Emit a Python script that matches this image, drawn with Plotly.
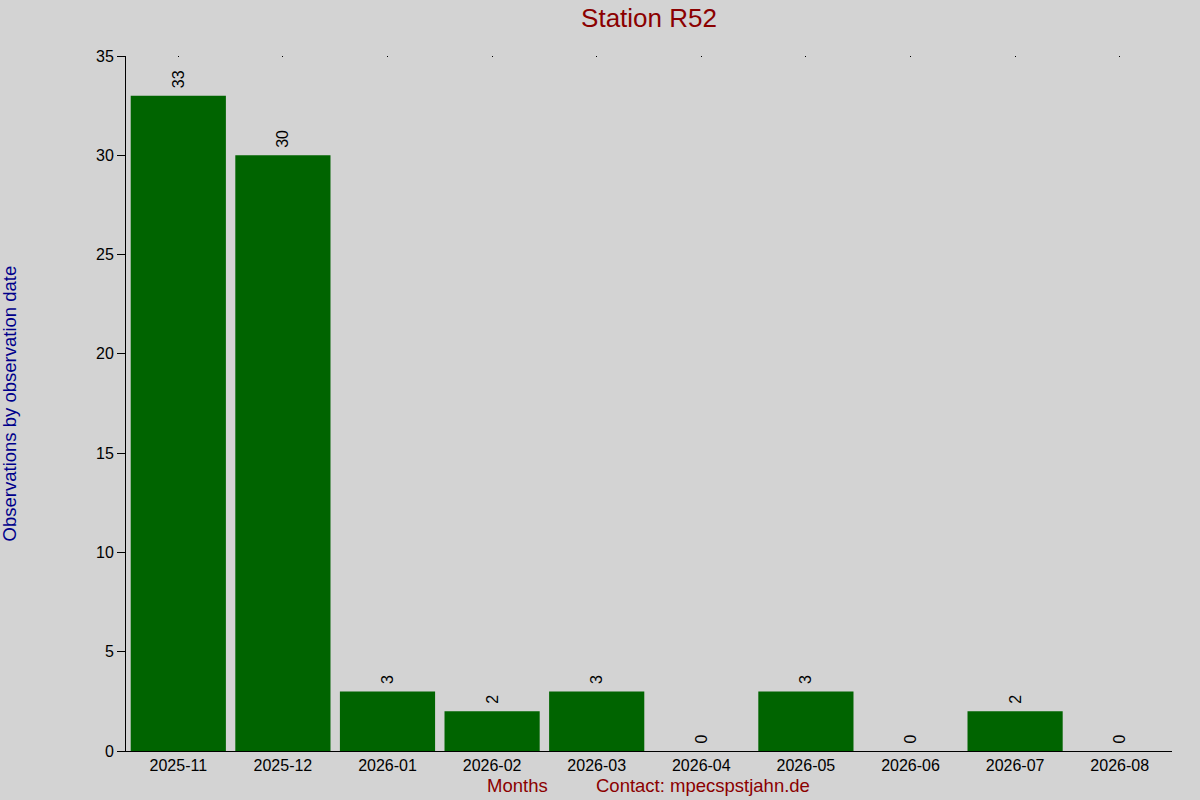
import plotly.graph_objects as go

# monthly observation counts for station R52
months = ['2025-11', '2025-12', '2026-01', '2026-02', '2026-03',
          '2026-04', '2026-05', '2026-06', '2026-07', '2026-08']
counts = [33, 30, 3, 2, 3, 0, 3, 0, 2, 0]

title_text = 'Station R52'
y_title = 'Observations by observation date'
x_title = 'Months'
contact = 'Contact: mpecspstjahn.de'

font_family = 'Liberation Sans, Arial, sans-serif'
dark_red = '#8b0000'

fig = go.Figure()

fig.add_trace(go.Bar(
    x=months,
    y=counts,
    marker_color='#006400',
    marker_line_width=0,
    # leading no-break space keeps the label a little off the bar top
    text=['\u00a0' + str(c) for c in counts],
    textposition='outside',
    textangle=-90,
    constraintext='none',
    textfont=dict(color='#000000', size=16),
    cliponaxis=False,
    hoverinfo='x+y',
))

# invisible copy on a top axis, only to get the small tick dots at the top
fig.add_trace(go.Bar(
    x=months,
    y=counts,
    xaxis='x2',
    marker_opacity=0,
    hoverinfo='skip',
    showlegend=False,
))

fig.update_layout(
    width=1200,
    height=800,
    paper_bgcolor='#d3d3d3',
    plot_bgcolor='#d3d3d3',
    font=dict(family=font_family, color='#000000', size=16),
    showlegend=False,
    bargap=0.09,
    margin=dict(l=126, r=28, t=56, b=49),
    title=dict(text=title_text, x=0.5, xref='paper', y=0.978, yanchor='middle',
               font=dict(size=26, color=dark_red)),
    xaxis=dict(
        type='category',
        range=[-0.5, 9.5],
        showline=True,
        linecolor='#000000',
        linewidth=1,
        showgrid=False,
        ticks='',
        tickfont=dict(size=16),
        fixedrange=True,
    ),
    xaxis2=dict(
        overlaying='x',
        matches='x',
        side='top',
        type='category',
        showticklabels=False,
        showgrid=False,
        showline=False,
        ticks='inside',
        ticklen=1,
        tickcolor='#000000',
    ),
    yaxis=dict(
        range=[0, 35],
        dtick=5,
        showline=True,
        linecolor='#000000',
        linewidth=1,
        showgrid=False,
        zeroline=False,
        ticks='outside',
        ticklen=8,
        tickcolor='#000000',
        tickfont=dict(size=16),
        fixedrange=True,
    ),
    annotations=[
        dict(text=y_title, xref='paper', yref='paper', x=-0.111, y=0.5,
             xanchor='center', yanchor='middle', textangle=-90, showarrow=False,
             font=dict(size=18.5, color='#00008b')),
        dict(text=x_title, xref='paper', yref='paper', x=0.374, y=-0.05,
             xanchor='center', yanchor='middle', showarrow=False,
             font=dict(size=18.5, color=dark_red)),
        dict(text=contact, xref='paper', yref='paper', x=0.552, y=-0.05,
             xanchor='center', yanchor='middle', showarrow=False,
             font=dict(size=18.5, color=dark_red)),
    ],
)

# drop the default page margin so the figure sits at the window corner
fig.write_html('out.html', config={'displayModeBar': False},
               post_script="document.body.style.margin='0';")
